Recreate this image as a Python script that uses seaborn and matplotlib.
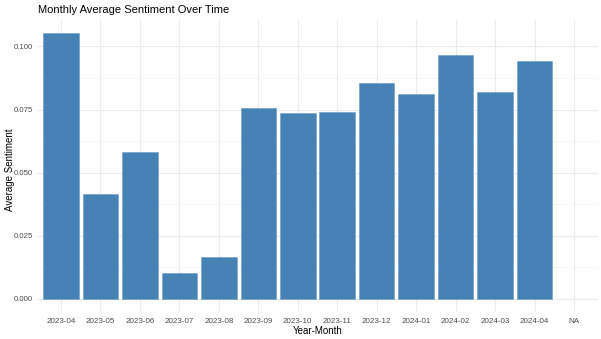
import matplotlib
matplotlib.use("Agg")
import matplotlib.pyplot as plt
import seaborn as sns
import numpy as np
import pandas as pd
from matplotlib.ticker import MultipleLocator, FormatStrFormatter

months = ["2023-04", "2023-05", "2023-06", "2023-07", "2023-08", "2023-09",
          "2023-10", "2023-11", "2023-12", "2024-01", "2024-02", "2024-03",
          "2024-04", "NA"]
sentiment = [0.1052, 0.0417, 0.0583, 0.0102, 0.0165, 0.0755,
             0.0735, 0.0739, 0.0854, 0.0811, 0.0965, 0.0819,
             0.0944, np.nan]
y_ticks = [0.000, 0.025, 0.050, 0.075, 0.100]

df = pd.DataFrame({"month": months, "sentiment": sentiment})

sns.set_theme(style="whitegrid")
plt.rcParams["font.family"] = ["Liberation Sans", "DejaVu Sans"]

fig = plt.figure(figsize=(6.01, 3.39), dpi=100)
ax = fig.add_axes([0.062, 0.079, 0.9325, 0.862])

sns.barplot(data=df.dropna(), x="month", y="sentiment", order=months,
            color="#4682B4", saturation=1, width=0.9, ax=ax,
            edgecolor="#6b9cc6", linewidth=0.4, errorbar=None)

ax.set_xlim(-0.6, len(months) - 1 + 0.6)
ymax = np.nanmax(sentiment)
ax.set_ylim(-0.05 * ymax, ymax * 1.05)
ax.yaxis.set_major_locator(MultipleLocator(0.025))
ax.yaxis.set_minor_locator(MultipleLocator(0.0125))
ax.yaxis.set_major_formatter(FormatStrFormatter("%.3f"))
ax.set_yticks(y_ticks)

ax.set_facecolor("white")
for s in ax.spines.values():
    s.set_visible(False)
ax.grid(True, which="major", axis="both", color="#EBEBEB", linewidth=0.8)
ax.grid(True, which="minor", axis="y", color="#F3F3F3", linewidth=0.5)
ax.set_axisbelow(True)
ax.tick_params(axis="x", which="both", length=0, labelsize=5.8,
               labelcolor="#4D4D4D", pad=4)
ax.tick_params(axis="y", which="both", length=0, labelsize=5.6,
               labelcolor="#4D4D4D", pad=3)

ax.set_xlabel("Year-Month", fontsize=7, color="black", labelpad=1)
ax.set_ylabel("Average Sentiment", fontsize=7, color="black")
ax.yaxis.set_label_coords(10 / 601, 0.5, transform=fig.transFigure)
ax.yaxis.label.set_va("center")
fig.text(0.064, 0.955, "Monthly Average Sentiment Over Time", fontsize=8.0,
         color="black", ha="left", va="bottom")

fig.savefig("out.png", dpi=100, facecolor="white")
